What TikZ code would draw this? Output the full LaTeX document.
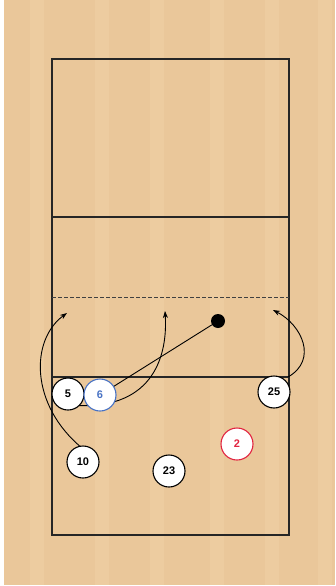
\documentclass[tikz,border=0pt]{standalone}
\usepackage{fontspec}
\setmainfont{Liberation Sans}
\usepackage{xcolor}
\usepackage{tikz}
\usetikzlibrary{arrows.meta}
\definecolor{wood}{RGB}{234,199,154}
\definecolor{woodlight}{RGB}{237,204,160}
\definecolor{setblue}{RGB}{72,114,196}
\definecolor{libred}{RGB}{226,36,64}
\tikzset{
  player/.style={circle,draw=black,fill=white,line width=1.1pt,minimum size=32pt,inner sep=0pt,font=\bfseries\fontsize{11}{13}\selectfont},
  setter/.style={player,draw=setblue,text=setblue},
  libero/.style={player,draw=libred,text=libred},
  ball/.style={circle,fill=black,minimum size=14pt,inner sep=0pt},
  courtline/.style={line width=1.2pt,draw=black!85},
  run/.style={-{Stealth[length=7pt,width=5pt]},line width=0.9pt,draw=black}
}

\begin{document}
\begin{tikzpicture}[x=1pt,y=-1pt]
    \useasboundingbox (0,0) rectangle (335,586);
    % floor
    \fill[white] (0,0) rectangle (335,586);
    \fill[wood] (4,0) rectangle (335,585);
    \foreach \x in {30,95,150,210,265,318}
      \fill[woodlight] (\x,0) rectangle ++(14,585);
    % court
    \draw[courtline] (52,59) rectangle (289,535);
    \draw[courtline] (52,217) -- (289,217);
    \draw[courtline] (52,377) -- (289,377);
    \draw[line width=1pt,draw=black!75,dash pattern=on 4pt off 2pt] (52,297) -- (289,297);
    % ball and players
    \node[ball] (ball) at (218,321) {};
    \coordinate (t10) at (67,313);
    \coordinate (t5) at (165,311);
    \coordinate (t25) at (273,310);
    \draw[run] (82,448) .. controls (30,405) and (30,340) .. (t10);
    \draw[run] (70,405) .. controls (150,412) and (168,360) .. (t5);
    \draw[run] (288,377) .. controls (318,360) and (302,325) .. (t25);
    \node[player] (p5) at (68,394) {5};
    \node[setter] (p6) at (100,395) {6};
    \node[player] (p25) at (274,392) {25};
    \node[libero] (p2) at (237,444) {2};
    \node[player] (p10) at (83,462) {10};
    \node[player] (p23) at (169,471) {23};
    \draw[line width=0.9pt] (p6) -- (ball);
  \end{tikzpicture}
\end{document}
